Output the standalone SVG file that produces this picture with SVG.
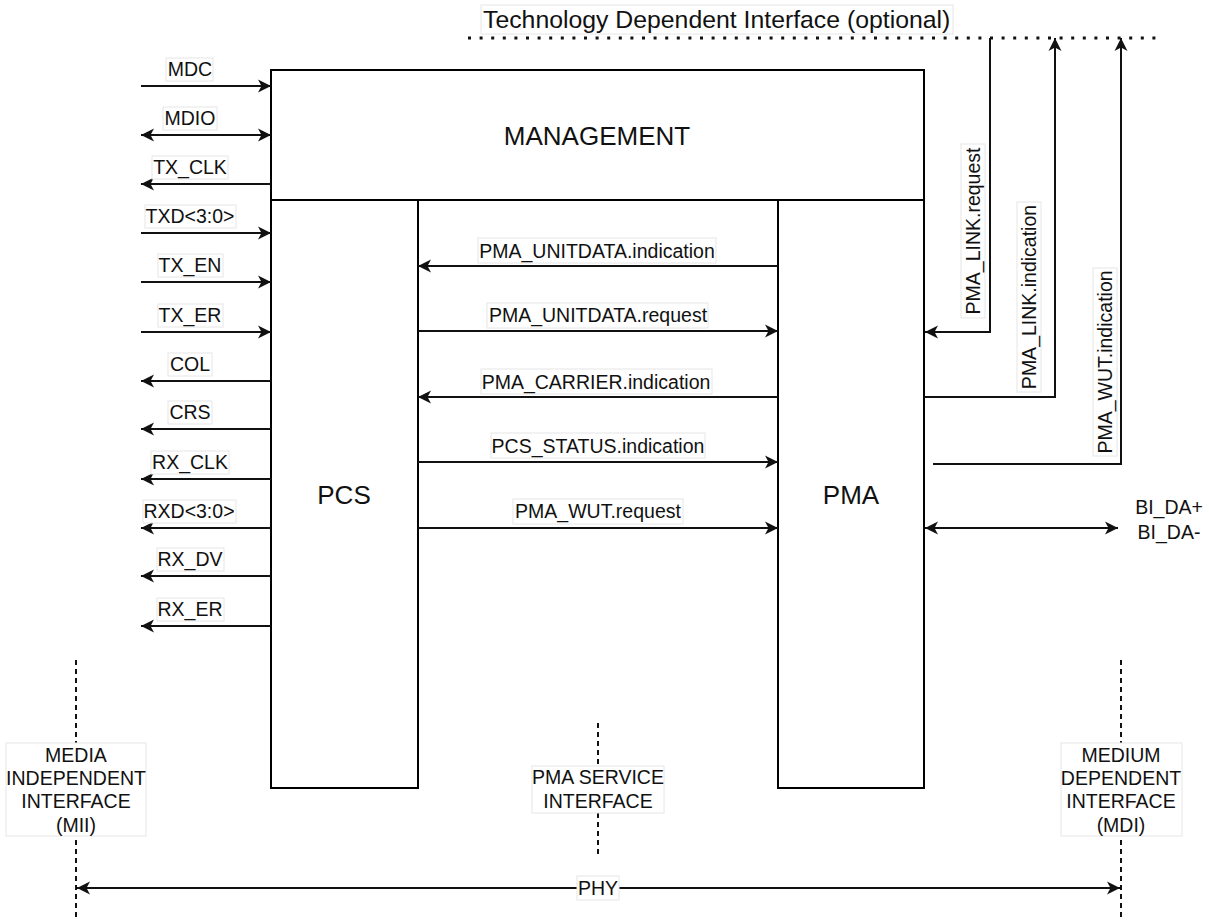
<svg xmlns="http://www.w3.org/2000/svg" width="1209" height="920" viewBox="0 0 1209 920">
<style>
text{font-family:"Liberation Sans",Arial,sans-serif;fill:#111;}
.t{font-size:19.5px;text-anchor:middle;}
.big{font-size:26px;text-anchor:middle;}
.box{fill:#fff;stroke:#000;stroke-width:2;}
.lb{fill:#fff;stroke:#e6e6e6;stroke-width:1;}
.ln{fill:none;stroke:#111;stroke-width:2;}
.ae{marker-end:url(#ah);}
.as{marker-start:url(#ah);}
.dash{fill:none;stroke:#111;stroke-width:2;stroke-dasharray:5 4;}
.dot{fill:none;stroke:#111;stroke-width:3;stroke-dasharray:3 8.6;}
</style>
<defs>
<marker id="ah" markerUnits="userSpaceOnUse" markerWidth="14" markerHeight="14" refX="13" refY="6.5" orient="auto-start-reverse" overflow="visible">
<path d="M0,0 L13,6.5 L0,13 L3.5,6.5 Z" fill="#111"/>
</marker>
</defs>
<rect width="1209" height="920" fill="#fff"/>

<g id="title">
<rect class="lb" x="481" y="5" width="472" height="29"/>
<text x="483" y="28" style="font-size:24.8px">Technology Dependent Interface (optional)</text>
</g>

<g id="management">
<rect class="box" x="271" y="70" width="653" height="130"/>
<text class="big" x="597" y="145">MANAGEMENT</text>
</g>
<g id="pcs">
<rect class="box" x="271" y="200" width="147" height="588"/>
<text class="big" x="344" y="504">PCS</text>
</g>
<g id="pma">
<rect class="box" x="778" y="200" width="146" height="588"/>
<text class="big" x="851" y="504">PMA</text>
</g>

<g id="connectors">
<path class="dot" d="M468,38 H1164"/>
<!-- left signals -->
<path class="ln ae" d="M141,86 H271"/>
<path class="ln ae as" d="M141,135 H271"/>
<path class="ln ae" d="M271,184 H141"/>
<path class="ln ae" d="M141,233 H271"/>
<path class="ln ae" d="M141,282 H271"/>
<path class="ln ae" d="M141,332 H271"/>
<path class="ln ae" d="M271,381 H141"/>
<path class="ln ae" d="M271,429 H141"/>
<path class="ln ae" d="M271,479 H141"/>
<path class="ln ae" d="M271,528 H141"/>
<path class="ln ae" d="M271,576 H141"/>
<path class="ln ae" d="M271,626 H141"/>
<!-- PCS/PMA -->
<path class="ln ae" d="M778,266 H418"/>
<path class="ln ae" d="M418,331 H778"/>
<path class="ln ae" d="M778,397 H418"/>
<path class="ln ae" d="M418,462 H778"/>
<path class="ln ae" d="M418,528 H778"/>
<!-- right -->
<path class="ln ae" d="M990,38 V332 H925"/>
<path class="ln ae" d="M924,397 H1055 V38"/>
<path class="ln ae" d="M933,464 H1121 V38"/>
<path class="ln ae as" d="M925,528 H1118"/>
<!-- interface lines -->
<path class="dash" d="M76,660 V920"/>
<path class="dash" d="M598,723 V855"/>
<path class="dash" d="M1121,660 V920"/>
<path class="ln ae as" d="M77,888 H1120"/>

<!-- left labels -->
<rect class="lb" x="166" y="58" width="47" height="23"/><text class="t" x="190" y="76">MDC</text>
<rect class="lb" x="163" y="107" width="54" height="23"/><text class="t" x="190" y="125">MDIO</text>
<rect class="lb" x="152" y="156" width="76" height="23"/><text class="t" x="190" y="174">TX_CLK</text>
<rect class="lb" x="145" y="205" width="91" height="23"/><text class="t" x="190" y="223">TXD&lt;3:0&gt;</text>
<rect class="lb" x="158" y="254" width="65" height="23"/><text class="t" x="190" y="272">TX_EN</text>
<rect class="lb" x="158" y="304" width="65" height="23"/><text class="t" x="190" y="322">TX_ER</text>
<rect class="lb" x="168" y="353" width="44" height="23"/><text class="t" x="190" y="371">COL</text>
<rect class="lb" x="168" y="401" width="44" height="23"/><text class="t" x="190" y="419">CRS</text>
<rect class="lb" x="151" y="451" width="78" height="23"/><text class="t" x="190" y="469">RX_CLK</text>
<rect class="lb" x="143" y="500" width="93" height="23"/><text class="t" x="189" y="518">RXD&lt;3:0&gt;</text>
<rect class="lb" x="157" y="548" width="67" height="23"/><text class="t" x="190" y="566">RX_DV</text>
<rect class="lb" x="157" y="598" width="67" height="23"/><text class="t" x="190" y="616">RX_ER</text>

<!-- middle labels -->
<rect class="lb" x="478" y="238" width="238" height="25"/><text class="t" x="597" y="258">PMA_UNITDATA.indication</text>
<rect class="lb" x="487" y="303" width="221" height="25"/><text class="t" x="598" y="322">PMA_UNITDATA.request</text>
<rect class="lb" x="481" y="369" width="231" height="25"/><text class="t" x="596" y="389">PMA_CARRIER.indication</text>
<rect class="lb" x="491" y="433" width="214" height="25"/><text class="t" x="598" y="453">PCS_STATUS.indication</text>
<rect class="lb" x="513" y="499" width="170" height="25"/><text class="t" x="598" y="518">PMA_WUT.request</text>

<!-- right vertical labels -->
<g transform="translate(973,231) rotate(-90)"><rect class="lb" x="-87" y="-12" width="174" height="24"/><text class="t" x="0" y="7">PMA_LINK.request</text></g>
<g transform="translate(1029,297) rotate(-90)"><rect class="lb" x="-95" y="-12" width="190" height="24"/><text class="t" x="0" y="7">PMA_LINK.indication</text></g>
<g transform="translate(1105,362) rotate(-90)"><rect class="lb" x="-94" y="-12" width="188" height="24"/><text class="t" x="0" y="7">PMA_WUT.indication</text></g>

<text class="t" x="1169" y="514">BI_DA+</text>
<text class="t" x="1169" y="539">BI_DA-</text>

<rect class="lb" x="577" y="876" width="42" height="24"/><text class="t" x="598" y="895">PHY</text>
</g>

<g id="mii">
<rect class="lb" x="6" y="743" width="140" height="93"/>
<text class="t" x="76" y="762">MEDIA</text>
<text class="t" x="76" y="785">INDEPENDENT</text>
<text class="t" x="76" y="808">INTERFACE</text>
<text class="t" x="76" y="832">(MII)</text>
</g>
<g id="pma-service">
<rect class="lb" x="532" y="766" width="132" height="47"/>
<text class="t" x="598" y="784">PMA SERVICE</text>
<text class="t" x="598" y="808">INTERFACE</text>
</g>
<g id="mdi">
<rect class="lb" x="1061" y="743" width="121" height="93"/>
<text class="t" x="1121" y="762">MEDIUM</text>
<text class="t" x="1121" y="785">DEPENDENT</text>
<text class="t" x="1121" y="808">INTERFACE</text>
<text class="t" x="1121" y="832">(MDI)</text>
</g>
</svg>
